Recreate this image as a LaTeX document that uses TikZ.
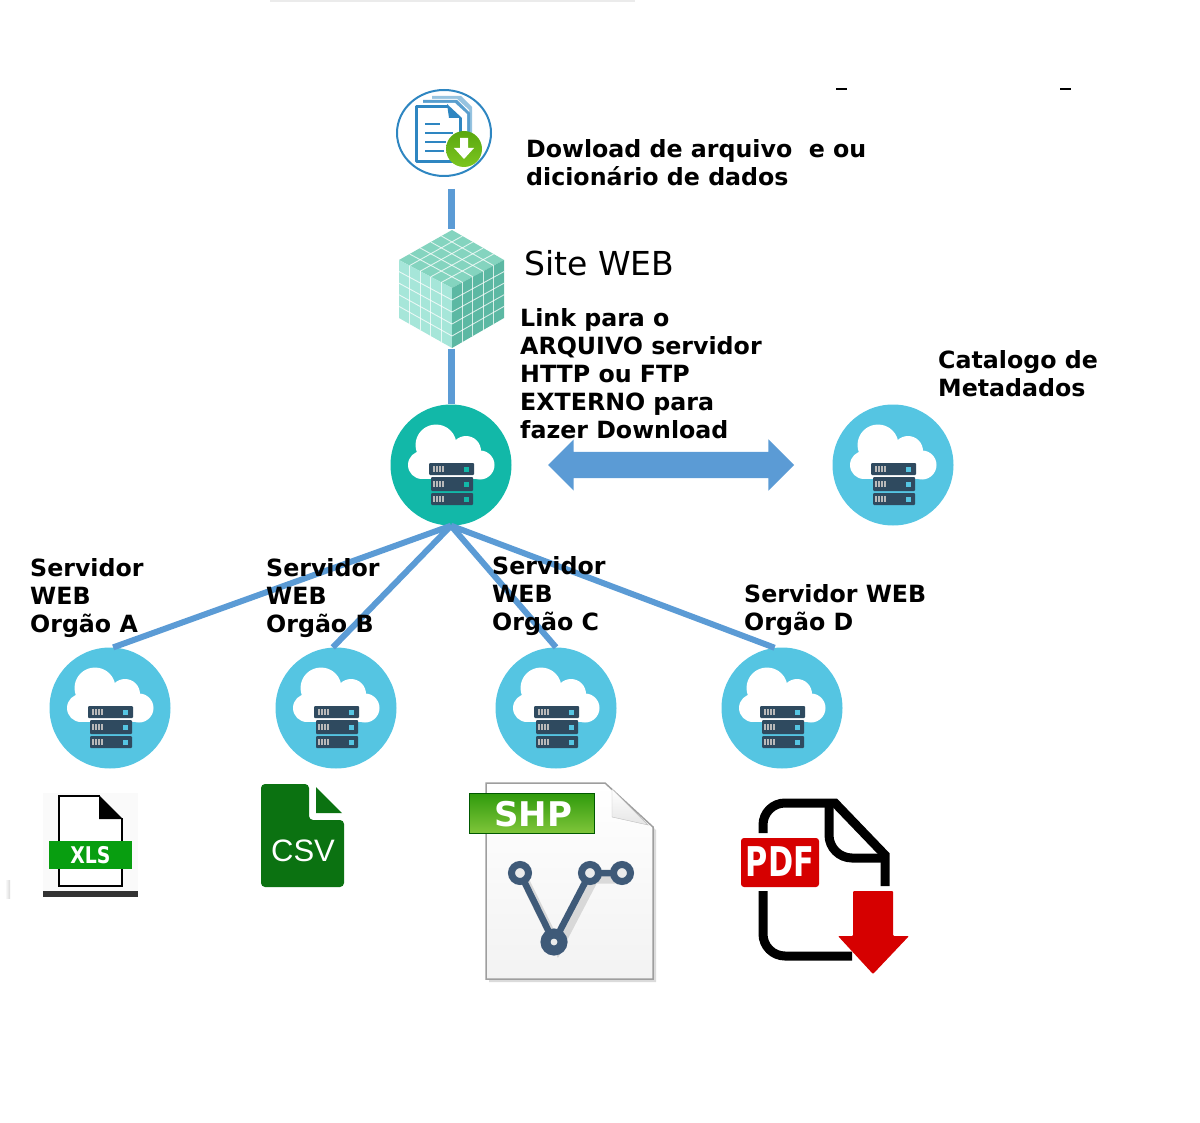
\documentclass[tikz,border=0pt]{standalone}
\usepackage{fontspec}
\setmainfont{DejaVu Sans}
\newfontfamily\arialfont{Liberation Sans}
\usetikzlibrary{arrows,positioning,calc,shapes.arrows,shapes.geometric}
\definecolor{linkblue}{HTML}{5B9BD5}
\definecolor{srvteal}{HTML}{12B8A8}
\definecolor{srvcyan}{HTML}{55C5E2}
\definecolor{srvdark}{HTML}{2F4A5F}
\definecolor{docblue}{HTML}{2E86C1}
\definecolor{csvgreen}{HTML}{0B7211}
\definecolor{xlsgreen}{HTML}{089E10}
\definecolor{pdfred}{HTML}{D60000}
\definecolor{shpblue}{HTML}{3F5A78}
\definecolor{cubetop}{HTML}{84D4BF}
\definecolor{cubeleft}{HTML}{A6E6D9}
\definecolor{cuberight}{HTML}{5CB8A3}
\definecolor{limetop}{HTML}{5AA80F}
\definecolor{limebot}{HTML}{7CC520}
\definecolor{shptop}{HTML}{2F9A0C}
\definecolor{shpbot}{HTML}{7FC53A}
\tikzset{
    srvicon/.pic={
        % cloud
        \fill[white] (-15,-20) circle (20.5) (15,-14) circle (15) (-29,0) circle (14) (29,0) circle (14.5);
        \fill[white] (-29,-15) rectangle (29,14);
        % rack
        \fill[srvdark,rounded corners=1] (-22,-2) rectangle (23,10);
        \fill[srvdark,rounded corners=1] (-20,12) rectangle (22,26);
        \fill[srvdark,rounded corners=1] (-20,28) rectangle (22,40);
        \foreach \y in {4,19,34} {
            \fill[#1] (13,\y-2.5) rectangle (18,\y+2.5);
            \foreach \x in {-18,-15,-12,-9} \fill[gray!55] (\x,\y-3) rectangle (\x+2,\y+3);
        }
    }
}
\begin{document}
\begin{tikzpicture}[
    x=1pt,y=-1pt,
    link/.style={linkblue,line width=6pt},
    srvcirc/.style={circle,minimum size=121pt,inner sep=0pt},
    boldlabel/.style={anchor=north west,inner sep=0pt,align=left,font=\bfseries\fontsize{23.7}{28}\selectfont},
    cubegrid/.style={white,opacity=.75,line width=.9pt},
    marktick/.style={fill=black}
]
\useasboundingbox (0,0) rectangle (1200,1123);

% Servers
\node[srvcirc,fill=srvteal] (srvMain) at (451,465) {};
\node[srvcirc,fill=srvcyan] (srvCat) at (893,465) {};
\node[srvcirc,fill=srvcyan] (srvA) at (110,708) {};
\node[srvcirc,fill=srvcyan] (srvB) at (336,708) {};
\node[srvcirc,fill=srvcyan] (srvC) at (556,708) {};
\node[srvcirc,fill=srvcyan] (srvD) at (782,708) {};
\node[minimum width=105pt,minimum height=119pt,inner sep=0pt] (cube) at (451,289) {};
\node[ellipse,minimum width=94pt,minimum height=86pt,inner sep=0pt] (docIcon) at (444,133) {};
\coordinate (docEnd) at (451,189);

% Connectors
\draw[link,line width=7pt] (docEnd) -- (cube.north);
\draw[link,line width=7pt] (cube.south) -- (srvMain.north);
\draw[link] (srvMain.south) -- (srvA.87);
\draw[link] (srvMain.south) -- (srvB.93);
\draw[link] (srvMain.south) -- (srvC.north);
\draw[link] (srvMain.south) -- (srvD.97);
\node[double arrow,fill=linkblue,minimum height=246pt,inner sep=13pt,double arrow head extend=12.5pt] (syncArrow) at (671,465) {};

% Server icons
\pic at (srvMain) {srvicon=srvteal};
\pic at (srvCat) {srvicon=srvcyan};
\pic at (srvA) {srvicon=srvcyan};
\pic at (srvB) {srvicon=srvcyan};
\pic at (srvC) {srvicon=srvcyan};
\pic at (srvD) {srvicon=srvcyan};

% Download icon
\draw[docblue,line width=2pt] (docIcon) ellipse (47 and 43);
\fill[docblue!50] (432,96) -- (461,96) -- (472,107) -- (472,150) -- (432,150) -- cycle;
\fill[white] (429,99) -- (457,99) -- (469,110) -- (469,150) -- (429,150) -- cycle;
\fill[docblue!80] (423,100) -- (457,100) -- (470,113) -- (470,156) -- (423,156) -- cycle;
\fill[white] (421,103) -- (455,103) -- (467,114) -- (467,156) -- (421,156) -- cycle;
\draw[docblue,line width=3pt,line join=round] (448,107) -- (416,107) -- (416,162) -- (460,162) -- (460,118);
\fill[docblue] (447,104) -- (449,118) -- (462,118) -- cycle;
\foreach \y/\e in {124/440,133/453,142/446,151/444} \draw[docblue,line width=2.5pt] (425,\y) -- (\e,\y);
\shade[top color=limetop,bottom color=limebot] (464,149) circle (18);
\fill[white] (460,138) -- (468,138) -- (468,148) -- (474,148) -- (464,159) -- (454,148) -- (460,148) -- cycle;

% Cube
\coordinate (cubeT) at (452,230);
\coordinate (cubeL) at (399,260);
\coordinate (cubeR) at (504,260);
\coordinate (cubeC) at (452,288);
\coordinate (cubeB) at (452,348);
\coordinate (cubeLB) at (399,318);
\coordinate (cubeRB) at (504,318);
\fill[cubetop] (cubeT) -- (cubeR) -- (cubeC) -- (cubeL) -- cycle;
\fill[cubeleft] (cubeL) -- (cubeC) -- (cubeB) -- (cubeLB) -- cycle;
\fill[cuberight] (cubeC) -- (cubeR) -- (cubeRB) -- (cubeB) -- cycle;
\foreach \i in {1,...,4} {
    \pgfmathsetmacro{\k}{\i/5}
    \draw[cubegrid] ($(cubeL)!\k!(cubeC)$) -- ($(cubeT)!\k!(cubeR)$);
    \draw[cubegrid] ($(cubeT)!\k!(cubeL)$) -- ($(cubeR)!\k!(cubeC)$);
    \draw[cubegrid] ($(cubeL)!\k!(cubeC)$) -- ($(cubeLB)!\k!(cubeB)$);
    \draw[cubegrid] ($(cubeL)!\k!(cubeLB)$) -- ($(cubeC)!\k!(cubeB)$);
    \draw[cubegrid] ($(cubeC)!\k!(cubeR)$) -- ($(cubeB)!\k!(cubeRB)$);
    \draw[cubegrid] ($(cubeC)!\k!(cubeB)$) -- ($(cubeR)!\k!(cubeRB)$);
}

% XLS file
\fill[black!2] (43,793) rectangle (138,891);
\fill[black!80] (43,891) rectangle (138,897);
\fill[white] (59,796) -- (100,796) -- (122,818) -- (122,886) -- (59,886) -- cycle;
\draw[black,line width=2.5pt,line join=miter] (100,796) -- (59,796) -- (59,886) -- (122,886) -- (122,818);
\fill[black] (99,795) -- (123,819) -- (99,819) -- cycle;
\fill[xlsgreen] (49,841) rectangle (132,869);
\node[xscale=.82,text=white,font=\bfseries\fontsize{23}{23}\selectfont] (xlsText) at (90.5,855) {XLS};

% CSV file
\fill[csvgreen,rounded corners=4] (261,784) -- (309,784) -- (309,820) -- (344,820) -- (344,887) -- (261,887) -- cycle;
\fill[csvgreen] (316,787) -- (342,813) -- (316,813) -- cycle;
\node[text=white,font=\arialfont\fontsize{31}{31}\selectfont] (csvText) at (303,851) {CSV};

% SHP file
\fill[black!14] (489,786) -- (608,786) -- (656,830) -- (656,982) -- (489,982) -- cycle;
\shade[top color=white,bottom color=black!5,draw=black!38,line width=1.5pt] (486,783) -- (605,783) -- (653,827) -- (653,979) -- (486,979) -- cycle;
\shade[top color=white,bottom color=black!10,draw=black!25] (612,789) -- (612,817) -- (648,825) -- cycle;
\shade[top color=shptop,bottom color=shpbot,draw=green!35!black,line width=1pt] (469,793) rectangle (594,833);
\node[text=white,font=\bfseries\fontsize{34}{34}\selectfont] (shpText) at (533,814) {SHP};
\draw[black,opacity=.12,line width=9pt] (524,879) -- (558,948) -- (594,879) -- (628,879);
\draw[shpblue,line width=6.5pt] (520,873) -- (554,942) -- (590,873) -- (622,873);
\fill[white!92!black,draw=shpblue,line width=7pt] (520,873) circle (8.5);
\fill[white!92!black,draw=shpblue,line width=7pt] (590,873) circle (8.5);
\fill[white!92!black,draw=shpblue,line width=7pt] (622,873) circle (8.5);
\fill[white!92!black,draw=shpblue,line width=10pt] (554,942) circle (8.5);

% PDF file
\draw[black,line width=9pt] (763,833) -- (763,825) arc (180:270:22) -- (835,803) -- (885,855) -- (885,886);
\draw[black,line width=9pt] (829,805) -- (829,835) arc (180:90:23) -- (885,858);
\draw[black,line width=9pt] (763,891) -- (763,934) arc (180:90:22) -- (852,956);
\fill[pdfred,rounded corners=3] (741,838) rectangle (819,887);
\node[xscale=.74,text=white,font=\bfseries\fontsize{41}{41}\selectfont] (pdfText) at (780,862) {PDF};
\fill[white] (838,936) -- (873,974) -- (909,936) -- (893,889) -- (853,889) -- cycle;
\fill[pdfred,rounded corners=1] (853,891) -- (893,891) -- (893,936) -- (909,936) -- (873,974) -- (838,936) -- (853,936) -- cycle;

% Labels
\node[boldlabel] (lblDownload) at (526,139) {Dowload de arquivo~ e ou\\dicionário de dados};
\node[anchor=north west,inner sep=0pt,font=\fontsize{33}{33}\selectfont] (lblSite) at (524,250) {Site WEB};
\node[boldlabel] (lblLink) at (520,308) {Link para o\\ARQUIVO servidor\\HTTP ou FTP\\EXTERNO para\\fazer Download};
\node[boldlabel] (lblCat) at (938,350) {Catalogo de\\Metadados};
\node[boldlabel] (lblA) at (30,558) {Servidor\\WEB\\Orgão A};
\node[boldlabel] (lblB) at (266,558) {Servidor\\WEB\\Orgão B};
\node[boldlabel] (lblC) at (492,556) {Servidor\\WEB\\Orgão C};
\node[boldlabel] (lblD) at (744,584) {Servidor WEB\\Orgão D};

% Stray marks
\fill[black!8] (270,0) rectangle (635,2);
\shade[left color=white,right color=black!15] (5,880) rectangle (10,898);
\fill[marktick] (836,88) rectangle (847,90);
\fill[marktick] (1060,88) rectangle (1071,90);

\end{tikzpicture}
\end{document}
